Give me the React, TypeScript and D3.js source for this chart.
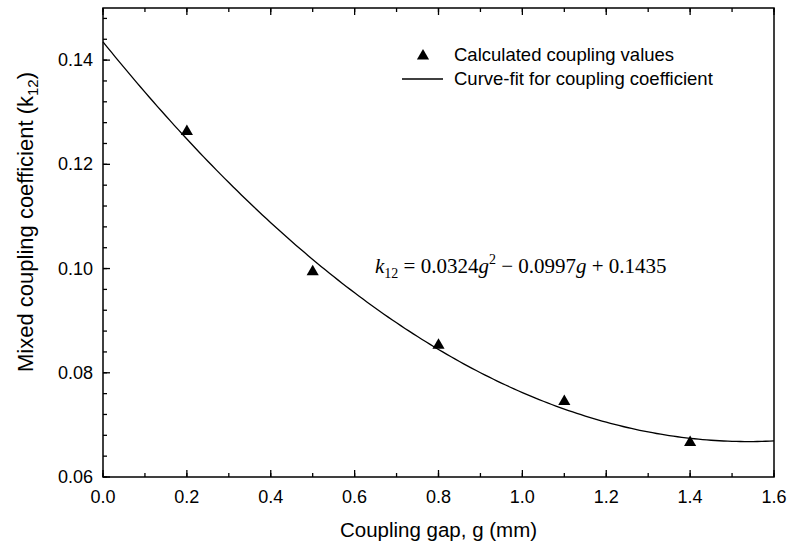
import React from "react";
import * as d3 from "d3";

const gapValues = [0.2, 0.5, 0.8, 1.1, 1.4];
const couplingValues = [0.1263, 0.0994, 0.0853, 0.0745, 0.0666];
const fitCoefficients = [0.0324, -0.0997, 0.1435];
const xMajorTicks = [0, 0.2, 0.4, 0.6, 0.8, 1.0, 1.2, 1.4, 1.6];
const yMajorTicks = [0.06, 0.08, 0.1, 0.12, 0.14];
const legendLabels = ["Calculated coupling values", "Curve-fit for coupling coefficient"];

const W = 788, H = 555;
const L = 103, R = 774, T = 8, B = 477;
const SANS = "'Liberation Sans', Arial, sans-serif";
const SERIF = "'Liberation Serif', 'Times New Roman', serif";

export default function App() {
  const x = d3.scaleLinear().domain([0, 1.6]).range([L, R]);
  const y = d3.scaleLinear().domain([0.06, 0.15]).range([B, T]);
  const xMinor = d3.range(0, 1.6001, 0.1);
  const yMinor = d3.range(0.06, 0.1501, 0.004);

  const fitPts = d3.range(0, 1.6001, 0.01).map((g) => [
    g,
    fitCoefficients[0] * g * g + fitCoefficients[1] * g + fitCoefficients[2],
  ]);
  const line = d3
    .line<number[]>()
    .x((d) => x(d[0]))
    .y((d) => y(d[1]))
    .curve(d3.curveLinear);
  const tri = d3.symbol().type(d3.symbolTriangle).size(64)();

  return (
    <svg width={W} height={H} style={{ position: "absolute", left: 0, top: 0, background: "#fff" }}>
      <rect x={0} y={0} width={W} height={H} fill="#fff" />
      {xMinor.map((v, i) => (
        <g key={"xm" + i}>
          <line x1={x(v)} x2={x(v)} y1={B} y2={B - 4} stroke="#000" strokeWidth={1.3} />
          <line x1={x(v)} x2={x(v)} y1={T} y2={T + 4} stroke="#000" strokeWidth={1.3} />
        </g>
      ))}
      {xMajorTicks.map((v, i) => (
        <g key={"xM" + i}>
          <line x1={x(v)} x2={x(v)} y1={B} y2={B - 7} stroke="#000" strokeWidth={1.3} />
          <line x1={x(v)} x2={x(v)} y1={T} y2={T + 7} stroke="#000" strokeWidth={1.3} />
          <text x={x(v)} y={503} textAnchor="middle" fontFamily={SANS} fontSize={18} fill="#000">
            {v.toFixed(1)}
          </text>
        </g>
      ))}
      {yMinor.map((v, i) => (
        <line key={"ym" + i} x1={L} x2={L + 4} y1={y(v)} y2={y(v)} stroke="#000" strokeWidth={1.3} />
      ))}
      {yMajorTicks.map((v, i) => (
        <g key={"yM" + i}>
          <line x1={L} x2={L + 7} y1={y(v)} y2={y(v)} stroke="#000" strokeWidth={1.3} />
          <text x={93} y={y(v) + 6} textAnchor="end" fontFamily={SANS} fontSize={18} fill="#000">
            {v.toFixed(2)}
          </text>
        </g>
      ))}
      <rect x={L} y={T} width={R - L} height={B - T} fill="none" stroke="#000" strokeWidth={1.5} />

      <path d={line(fitPts) || ""} fill="none" stroke="#000" strokeWidth={1.3} />
      {gapValues.map((g, i) => (
        <path key={"p" + i} d={tri || ""} transform={`translate(${x(g)},${y(couplingValues[i])})`} fill="#000" />
      ))}

      <path d={tri || ""} transform="translate(423,56)" fill="#000" />
      <text x={454} y={61} fontFamily={SANS} fontSize={18.5} fill="#000">{legendLabels[0]}</text>
      <line x1={402} x2={443} y1={79} y2={79} stroke="#000" strokeWidth={1.3} />
      <text x={454} y={85} fontFamily={SANS} fontSize={18.5} fill="#000">{legendLabels[1]}</text>

      <text x={375} y={273} fontFamily={SERIF} fontSize={21} fill="#000">
        <tspan fontStyle="italic">k</tspan>
        <tspan fontSize={14} dy={5}>12</tspan>
        <tspan dy={-5}>{" = 0.0324"}</tspan>
        <tspan fontStyle="italic">g</tspan>
        <tspan fontSize={14} dy={-9}>2</tspan>
        <tspan dy={9}>{" \u2212 0.0997"}</tspan>
        <tspan fontStyle="italic">g</tspan>
        <tspan>{" + 0.1435"}</tspan>
      </text>

      <text x={(L + R) / 2} y={537} textAnchor="middle" fontFamily={SANS} fontSize={20.5} fill="#000">
        Coupling gap, g (mm)
      </text>
      <text transform="translate(33,222) rotate(-90)" textAnchor="middle" fontFamily={SANS} fontSize={22} fill="#000">
        Mixed coupling coefficient (k<tspan fontSize={15} dy={5}>12</tspan><tspan dy={-5}>)</tspan>
      </text>
    </svg>
  );
}
